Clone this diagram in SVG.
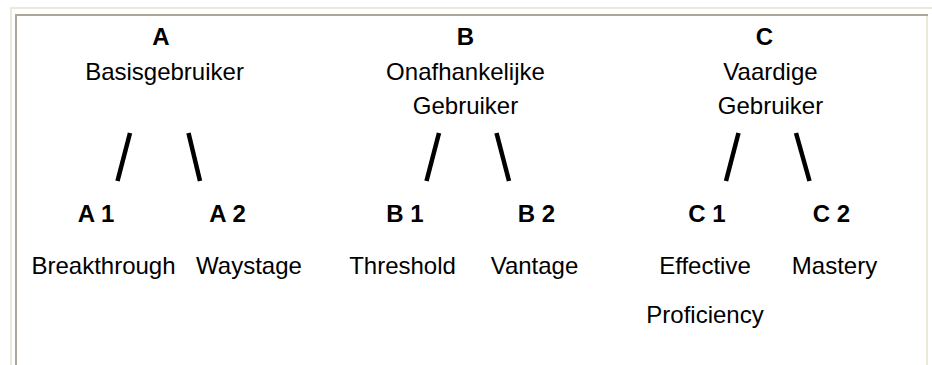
<svg xmlns="http://www.w3.org/2000/svg" width="932" height="365" viewBox="0 0 932 365">
<style>
text{font-family:"Liberation Sans",Arial,sans-serif;font-size:24px;fill:#000;text-anchor:middle}
.b{font-weight:bold}
.edge{stroke:#000;stroke-width:4.5;stroke-linecap:butt}
</style>
<rect width="932" height="365" fill="#fff"/>
<g id="frame">
<rect x="10" y="7" width="922" height="2" fill="#ece9d8"/>
<rect x="10" y="7" width="2" height="358" fill="#ece9d8"/>
<rect x="15" y="14" width="913" height="2" fill="#aca899"/>
<rect x="15" y="14" width="2" height="351" fill="#aca899"/>
<rect x="926" y="16" width="2" height="349" fill="#ece9d8"/>
</g>
<g id="connectors">
<line class="edge" x1="130" y1="133" x2="117.5" y2="181"/>
<line class="edge" x1="188.5" y1="133" x2="200" y2="181"/>
<line class="edge" x1="439" y1="133" x2="426.5" y2="181"/>
<line class="edge" x1="496.5" y1="133" x2="509" y2="181"/>
<line class="edge" x1="738.5" y1="133" x2="726" y2="181"/>
<line class="edge" x1="796" y1="133" x2="809.5" y2="181"/>
</g>
<g id="nodeA">
<text class="b" x="161" y="45">A</text>
<text x="164.5" y="80">Basisgebruiker</text>
</g>
<g id="nodeB">
<text class="b" x="465.5" y="45">B</text>
<text x="465.5" y="80">Onafhankelijke</text>
<text x="465.5" y="114">Gebruiker</text>
</g>
<g id="nodeC">
<text class="b" x="764.5" y="45">C</text>
<text x="770.5" y="80">Vaardige</text>
<text x="770.5" y="114">Gebruiker</text>
</g>
<g id="nodeA1">
<text class="b" x="96" y="222">A 1</text>
<text x="103.5" y="274">Breakthrough</text>
</g>
<g id="nodeA2">
<text class="b" x="227.5" y="222">A 2</text>
<text x="249" y="274">Waystage</text>
</g>
<g id="nodeB1">
<text class="b" x="405" y="222">B 1</text>
<text x="402.5" y="274">Threshold</text>
</g>
<g id="nodeB2">
<text class="b" x="536.5" y="222">B 2</text>
<text x="534.5" y="274">Vantage</text>
</g>
<g id="nodeC1">
<text class="b" x="707" y="222">C 1</text>
<text x="705" y="274">Effective</text>
<text x="705" y="323">Proficiency</text>
</g>
<g id="nodeC2">
<text class="b" x="831.5" y="222">C 2</text>
<text x="834.5" y="274">Mastery</text>
</g>
</svg>
